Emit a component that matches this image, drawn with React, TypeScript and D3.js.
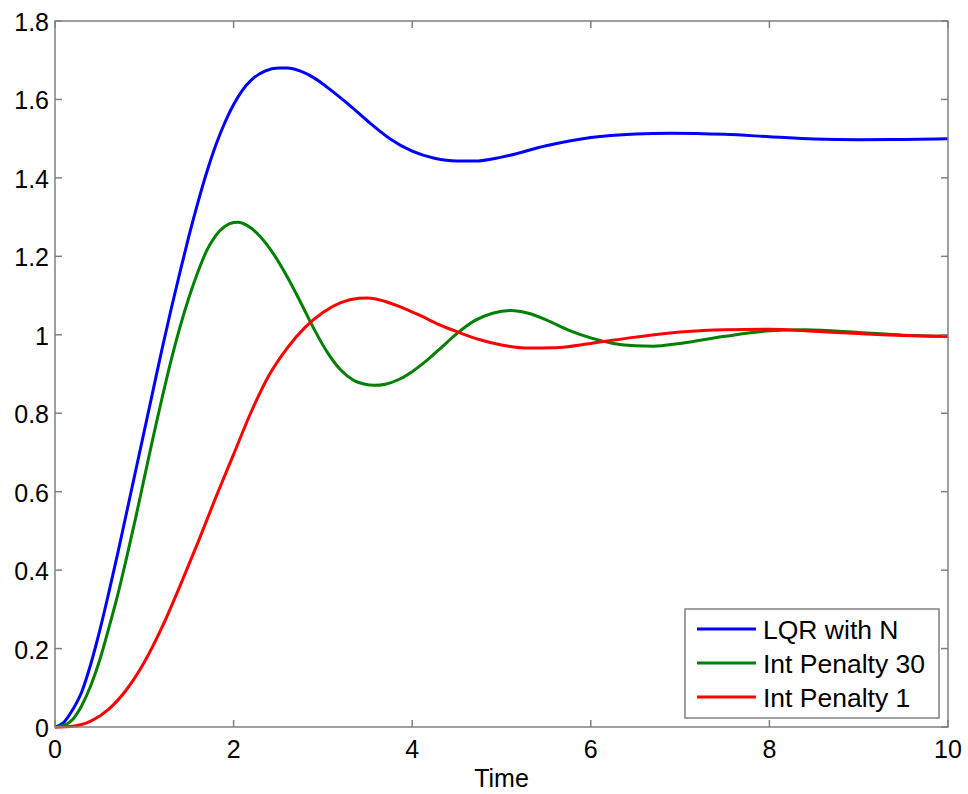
import React, { useRef, useEffect } from 'react';
import * as d3 from 'd3';

// points: [time, response]
const lqrWithN: [number, number][] = [
  [0, 0], [0.1, 0.012], [0.2, 0.045], [0.3, 0.09], [0.4, 0.16], [0.5, 0.245],
  [0.6, 0.34], [0.7, 0.44], [0.8, 0.545], [0.9, 0.65], [1.0, 0.755], [1.1, 0.86],
  [1.2, 0.965], [1.3, 1.065], [1.4, 1.16], [1.5, 1.252], [1.6, 1.337], [1.7, 1.415],
  [1.8, 1.483], [1.9, 1.54], [2.0, 1.587], [2.1, 1.624], [2.2, 1.65], [2.35, 1.672],
  [2.5, 1.68], [2.6, 1.68], [2.75, 1.672], [2.9, 1.655], [3.1, 1.622], [3.3, 1.585],
  [3.5, 1.545], [3.75, 1.5], [4.0, 1.468], [4.25, 1.45], [4.5, 1.443], [4.7, 1.443],
  [5.0, 1.453], [5.5, 1.482], [6.0, 1.503], [6.5, 1.512], [6.9, 1.514], [7.5, 1.511],
  [8.0, 1.505], [8.5, 1.499], [9.0, 1.497], [9.5, 1.498], [10, 1.5],
];

const intPenalty30: [number, number][] = [
  [0, 0], [0.1, 0.004], [0.2, 0.02], [0.3, 0.055], [0.4, 0.105], [0.5, 0.17],
  [0.6, 0.25], [0.7, 0.335], [0.8, 0.43], [0.9, 0.53], [1.0, 0.635], [1.1, 0.74],
  [1.2, 0.84], [1.3, 0.935], [1.4, 1.02], [1.5, 1.095], [1.6, 1.16], [1.7, 1.215],
  [1.8, 1.253], [1.9, 1.276], [2.0, 1.286], [2.05, 1.287], [2.15, 1.279], [2.3, 1.25],
  [2.45, 1.205], [2.6, 1.148], [2.75, 1.083], [2.9, 1.015], [3.05, 0.955], [3.2, 0.91],
  [3.35, 0.883], [3.45, 0.875], [3.58, 0.871], [3.7, 0.874], [3.85, 0.886], [4.0, 0.906],
  [4.15, 0.932], [4.3, 0.962], [4.5, 1.003], [4.7, 1.036], [4.9, 1.055], [5.1, 1.062],
  [5.3, 1.055], [5.5, 1.038], [5.75, 1.012], [6.0, 0.992], [6.25, 0.978], [6.5, 0.972],
  [6.7, 0.971], [7.0, 0.978], [7.5, 0.996], [8.0, 1.01], [8.4, 1.013], [9.0, 1.006],
  [9.5, 0.999], [10, 0.996],
];

const intPenalty1: [number, number][] = [
  [0, 0], [0.2, 0.002], [0.4, 0.015], [0.6, 0.045], [0.8, 0.095], [1.0, 0.165],
  [1.2, 0.255], [1.4, 0.36], [1.6, 0.47], [1.8, 0.585], [2.0, 0.695], [2.2, 0.805],
  [2.4, 0.898], [2.6, 0.966], [2.8, 1.019], [3.0, 1.057], [3.2, 1.082], [3.4, 1.093],
  [3.5, 1.094], [3.7, 1.085], [3.9, 1.068], [4.1, 1.048], [4.3, 1.026], [4.5, 1.008],
  [4.75, 0.988], [5.0, 0.974], [5.3, 0.966], [5.6, 0.967], [6.0, 0.978], [6.5, 0.994],
  [7.0, 1.007], [7.5, 1.013], [8.0, 1.014], [8.5, 1.009], [9.0, 1.003], [9.5, 0.998],
  [10, 0.996],
];

const seriesNames = ['LQR with N', 'Int Penalty 30', 'Int Penalty 1'];
const seriesColors = ['#0000ff', '#008000', '#ff0000'];
const xTicks = [0, 2, 4, 6, 8, 10];
const yTicks = [0, 0.2, 0.4, 0.6, 0.8, 1, 1.2, 1.4, 1.6, 1.8];

export default function App() {
  const svgRef = useRef<SVGSVGElement>(null);

  useEffect(() => {
    if (!svgRef.current) return;
    const width = 968;
    const height = 794;
    const left = 55, right = 948, top = 21, bottom = 727;
    const font = 'Liberation Sans, Arial, sans-serif';
    const axisColor = '#808080';

    const svg = d3.select(svgRef.current);
    svg.selectAll('*').remove();
    svg.attr('width', width).attr('height', height);

    svg.append('rect').attr('width', width).attr('height', height).attr('fill', '#fff');

    const x = d3.scaleLinear().domain([0, 10]).range([left, right]);
    const y = d3.scaleLinear().domain([0, 1.8]).range([bottom, top]);

    // curves
    const line = d3.line<[number, number]>()
      .x(d => x(d[0]))
      .y(d => y(d[1]))
      .curve(d3.curveMonotoneX);

    const allSeries = [lqrWithN, intPenalty30, intPenalty1];
    allSeries.forEach((s, i) => {
      svg.append('path')
        .datum(s)
        .attr('d', line)
        .attr('fill', 'none')
        .attr('stroke', seriesColors[i])
        .attr('stroke-width', 3)
        .attr('stroke-linejoin', 'round');
    });

    // box + ticks (inside, mirrored)
    const tickLen = 7;
    const g = svg.append('g').attr('stroke', axisColor).attr('stroke-width', 1.5);
    g.append('rect')
      .attr('x', left).attr('y', top)
      .attr('width', right - left).attr('height', bottom - top)
      .attr('fill', 'none');
    xTicks.forEach(t => {
      g.append('line').attr('x1', x(t)).attr('x2', x(t)).attr('y1', bottom).attr('y2', bottom - tickLen);
      g.append('line').attr('x1', x(t)).attr('x2', x(t)).attr('y1', top).attr('y2', top + tickLen);
    });
    yTicks.forEach(t => {
      g.append('line').attr('x1', left).attr('x2', left + tickLen).attr('y1', y(t)).attr('y2', y(t));
      g.append('line').attr('x1', right).attr('x2', right - tickLen).attr('y1', y(t)).attr('y2', y(t));
    });

    // tick labels
    svg.append('g').selectAll('text').data(xTicks).enter().append('text')
      .attr('x', d => x(d)).attr('y', bottom + 31)
      .attr('text-anchor', 'middle')
      .attr('font-family', font).attr('font-size', 25).attr('fill', '#000')
      .text(d => String(d));

    svg.append('g').selectAll('text').data(yTicks).enter().append('text')
      .attr('x', left - 6).attr('y', d => y(d) + 10)
      .attr('text-anchor', 'end')
      .attr('font-family', font).attr('font-size', 25).attr('fill', '#000')
      .text(d => String(d));

    svg.append('text')
      .attr('x', (left + right) / 2).attr('y', 787)
      .attr('text-anchor', 'middle')
      .attr('font-family', font).attr('font-size', 25).attr('fill', '#000')
      .text('Time');

    // legend
    const lg = svg.append('g');
    lg.append('rect')
      .attr('x', 685).attr('y', 609).attr('width', 254).attr('height', 109)
      .attr('fill', '#fff').attr('stroke', axisColor).attr('stroke-width', 1.5);
    seriesNames.forEach((name, i) => {
      const cy = 629 + i * 34;
      lg.append('line')
        .attr('x1', 697).attr('x2', 756).attr('y1', cy).attr('y2', cy)
        .attr('stroke', seriesColors[i]).attr('stroke-width', 3);
      lg.append('text')
        .attr('x', 763).attr('y', cy + 10)
        .attr('font-family', font).attr('font-size', 26.5).attr('fill', '#000')
        .text(name);
    });
  }, []);

  return (
    <svg ref={svgRef} style={{ position: 'absolute', left: 0, top: 0, display: 'block' }} />
  );
}
